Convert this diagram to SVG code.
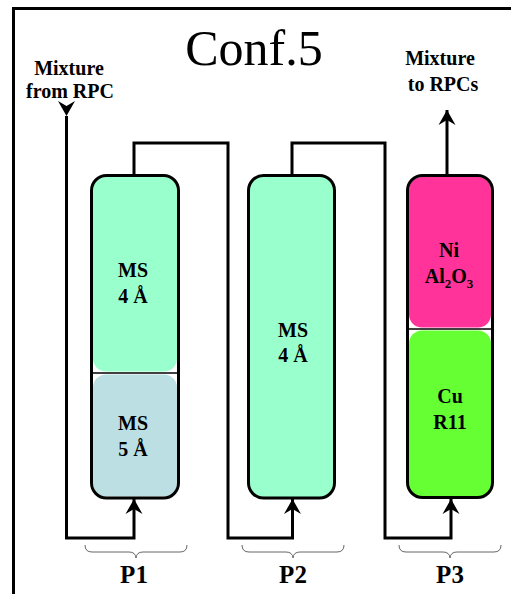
<svg xmlns="http://www.w3.org/2000/svg" width="511" height="594" viewBox="0 0 511 594">
<defs>
<marker id="arr" markerUnits="userSpaceOnUse" markerWidth="20" markerHeight="20" viewBox="-16 -10 18 20" refX="0" refY="0" orient="auto">
<path d="M0,0 L-15,-8.5 L-10,0 L-15,8.5 Z" fill="#000"/>
</marker>
<style>
.pipe{fill:none;stroke:#000;stroke-width:3;stroke-linejoin:miter}
.frame{stroke:#000;stroke-width:3}
.sep{stroke:#000;stroke-width:1.5}
.brace{fill:none;stroke:#666;stroke-width:1}
.lbl{font-weight:bold;font-size:20px;text-anchor:middle;fill:#000}
.plbl{font-weight:bold;font-size:25px;text-anchor:middle;fill:#000}
.title{font-size:50px;text-anchor:middle;fill:#000}
</style>
</defs>
<rect width="511" height="594" fill="#fff"/>
<path d="M13.5,594 V8.5 H511" fill="none" stroke="#000" stroke-width="3"/>
<g font-family="Liberation Serif, DejaVu Serif, Tinos, Times, serif">
<text class="title" x="254" y="65">Conf.5</text>
<g id="label-in">
<text class="lbl" x="69" y="75">Mixture</text>
<text class="lbl" x="70" y="98">from RPC</text>
</g>
<g id="label-out">
<text class="lbl" x="440" y="65">Mixture</text>
<text class="lbl" x="443" y="91">to RPCs</text>
</g>
<g id="connectors">
<path class="pipe" d="M66.5,116 V538 H134 V499" marker-start="url(#arr)" marker-end="url(#arr)"/>
<path class="pipe" d="M134,175 V143 H228 V538 H292.5 V499" marker-end="url(#arr)"/>
<path class="pipe" d="M292,175 V143 H385 V538 H451 V499" marker-end="url(#arr)"/>
<path class="pipe" d="M447,175 V110" marker-end="url(#arr)"/>
</g>
<g id="P1">
<rect x="93" y="177" width="84" height="194.5" rx="13" fill="#99FFCC"/>
<rect x="93" y="374.5" width="84" height="122" rx="13" fill="#BBDFE2"/>
<line class="sep" x1="91.5" y1="373" x2="178.5" y2="373"/>
<rect class="frame" x="91.5" y="175.5" width="87" height="322.5" rx="15" fill="none"/>
<text class="lbl" x="133" y="277">MS</text>
<text class="lbl" x="133" y="303">4 Å</text>
<text class="lbl" x="133" y="430">MS</text>
<text class="lbl" x="133" y="456">5 Å</text>
<path class="brace" d="M85,545 Q85,552 92,552 L129,552 Q135.5,552 136,558 Q136.5,552 143,552 L180,552 Q187,552 187,545"/>
<text class="plbl" x="134" y="583">P1</text>
</g>
<g id="P2">
<rect class="frame" x="248.5" y="175.5" width="86" height="322.5" rx="15" fill="#99FFCC"/>
<text class="lbl" x="293" y="337">MS</text>
<text class="lbl" x="293" y="362">4 Å</text>
<path class="brace" d="M242,545 Q242,552 249,552 L286,552 Q292.5,552 293,558 Q293.5,552 300,552 L337,552 Q344,552 344,545"/>
<text class="plbl" x="293" y="583">P2</text>
</g>
<g id="P3">
<rect x="409" y="177" width="82" height="150.5" rx="13" fill="#FF3399"/>
<rect x="409" y="330.5" width="82" height="166" rx="13" fill="#66FF33"/>
<line class="sep" x1="407.5" y1="329" x2="492.5" y2="329"/>
<rect class="frame" x="407.5" y="175.5" width="85" height="322" rx="15" fill="none"/>
<text class="lbl" x="449" y="257">Ni</text>
<text class="lbl" x="449" y="283">Al<tspan dy="5" font-size="13">2</tspan><tspan dy="-5">O</tspan><tspan dy="5" font-size="13">3</tspan></text>
<text class="lbl" x="450" y="403">Cu</text>
<text class="lbl" x="450" y="429">R11</text>
<path class="brace" d="M399,545 Q399,552 406,552 L443,552 Q449.5,552 450,558 Q450.5,552 457,552 L494,552 Q501,552 501,545"/>
<text class="plbl" x="450" y="583">P3</text>
</g>
</g>
</svg>
